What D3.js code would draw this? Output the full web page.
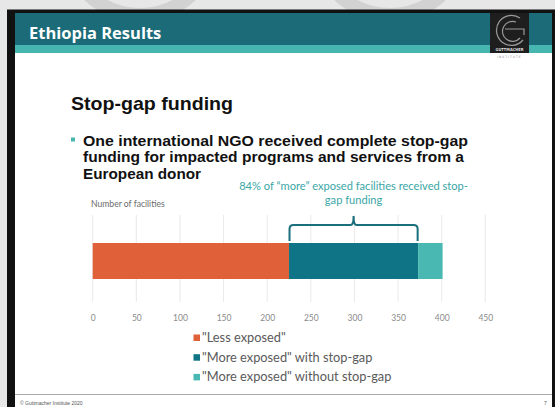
<!DOCTYPE html>
<html><head><meta charset="utf-8">
<script src="https://cdn.jsdelivr.net/npm/d3@7"></script>
<style>html,body{margin:0;padding:0;background:#e7e7e7;}svg{display:block;}</style>
</head><body>
<script>
const categories = ["\"Less exposed\"", "\"More exposed\" with stop-gap", "\"More exposed\" without stop-gap"];
const values = [225, 148, 28];
const colors = ["#e0603a", "#0f7486", "#4ab8b2"];
const tickValues = [0, 50, 100, 150, 200, 250, 300, 350, 400, 450];
const annotation = ["84% of \u201cmore\u201d exposed facilities received stop-", "gap funding"];

const W = 555, H = 407;
const svg = d3.select("body").append("svg").attr("width", W).attr("height", H);

// background faint shapes
svg.append("rect").attr("width", W).attr("height", H).attr("fill", "#e7e7e7");
svg.append("circle").attr("cx", 140).attr("cy", -60).attr("r", 75).attr("fill", "none").attr("stroke", "#d2d2d2").attr("stroke-width", 14);
svg.append("circle").attr("cx", 390).attr("cy", -60).attr("r", 75).attr("fill", "none").attr("stroke", "#d2d2d2").attr("stroke-width", 14);

// slide frame
svg.append("rect").attr("x", 7).attr("y", 9.5).attr("width", W - 7).attr("height", H).attr("fill", "#111");
svg.append("rect").attr("x", 15).attr("y", 13).attr("width", 537).attr("height", H).attr("fill", "#fff");
svg.append("rect").attr("x", 15).attr("y", 13).attr("width", 537).attr("height", 32).attr("fill", "#1b6c78");
svg.append("rect").attr("x", 15).attr("y", 45).attr("width", 537).attr("height", 8).attr("fill", "#47b6b1");
svg.append("text").attr("x", 29).attr("y", 39).attr("fill", "#fff")
  .attr("font-family", "Open Sans, sans-serif").attr("font-weight", 700).attr("font-size", 16.5)
  .text("Ethiopia Results");

// logo
const logo = svg.append("g");
logo.append("rect").attr("x", 490).attr("y", 13).attr("width", 39).attr("height", 40).attr("fill", "#1e1e1e");
logo.append("path").attr("d", "M520,18 A15,15 0 1,0 523,40").attr("fill", "none").attr("stroke", "#9a9a9a").attr("stroke-width", 1.2);
logo.append("path").attr("d", "M516,22 A10,10 0 1,0 520,38").attr("fill", "none").attr("stroke", "#9a9a9a").attr("stroke-width", 1.2);
logo.append("path").attr("d", "M505,29 L524,29 L524,35").attr("fill", "none").attr("stroke", "#9a9a9a").attr("stroke-width", 1.2);
logo.append("text").attr("x", 509.5).attr("y", 51).attr("text-anchor", "middle").attr("fill", "#ddd")
  .attr("font-family", "DejaVu Sans Condensed, sans-serif").attr("font-size", 4).attr("font-weight", 700).text("GUTTMACHER");
logo.append("text").attr("x", 509.5).attr("y", 57.5).attr("text-anchor", "middle").attr("fill", "#888")
  .attr("font-family", "DejaVu Sans, sans-serif").attr("font-size", 3).attr("letter-spacing", 1).text("INSTITUTE");

// title + bullet
svg.append("text").attr("x", 71).attr("y", 110).attr("fill", "#111")
  .attr("font-family", "Liberation Sans, Arial, sans-serif").attr("font-weight", 700).attr("font-size", 18.5)
  .attr("textLength", 162).attr("lengthAdjust", "spacingAndGlyphs")
  .text("Stop-gap funding");
svg.append("rect").attr("x", 71).attr("y", 137.5).attr("width", 4).attr("height", 4).attr("fill", "#47b6b1");
const bl = ["One international NGO received complete stop-gap", "funding for impacted programs and services from a", "European donor"];
const blW = [385, 381, 118];
bl.forEach((t, i) => svg.append("text").attr("x", 83).attr("y", 145.5 + i * 16.5).attr("fill", "#111")
  .attr("font-family", "Liberation Sans, Arial, sans-serif").attr("font-weight", 700).attr("font-size", 15)
  .attr("textLength", blW[i]).attr("lengthAdjust", "spacingAndGlyphs").text(t));

// chart
const x = d3.scaleLinear().domain([0, 400]).range([92.7, 441.7]);
const barY = 243, barH = 36;
const grid = svg.append("g");
grid.selectAll("line").data(tickValues).join("line")
  .attr("x1", d => x(d)).attr("x2", d => x(d)).attr("y1", 215).attr("y2", 302)
  .attr("stroke", "#e3e3e3").attr("stroke-width", 0.8);
const axis = svg.append("g").attr("transform", "translate(0,315)")
  .call(d3.axisBottom(x).tickValues(tickValues).tickSize(0).tickPadding(0));
axis.select(".domain").remove();
axis.selectAll("text").attr("fill", "#8a8a8a").attr("font-family", "Lato, Open Sans, sans-serif").attr("font-size", 8.5);

let acc = 0;
const segs = values.map((v, i) => { const s = {v, i, x0: acc}; acc += v; return s; });
svg.append("g").selectAll("rect").data(segs).join("rect")
  .attr("x", d => x(d.x0)).attr("y", barY).attr("width", d => x(d.x0 + d.v) - x(d.x0)).attr("height", barH)
  .attr("fill", d => colors[d.i]);

svg.append("text").attr("x", 91).attr("y", 206.5).attr("fill", "#6b6b6b")
  .attr("font-family", "Lato, Open Sans, sans-serif").attr("font-size", 8.6).text("Number of facilities");

// bracket
const bx0 = x(values[0]) + 0.5, bx1 = x(values[0] + values[1]) - 0.5, bm = (bx0 + bx1) / 2;
svg.append("path")
  .attr("d", `M${bx0},241 L${bx0},229 Q${bx0},225 ${bx0 + 4},225 L${bm - 3},225 Q${bm},225 ${bm},216 Q${bm},225 ${bm + 3},225 L${bx1 - 4},225 Q${bx1},225 ${bx1},229 L${bx1},241`)
  .attr("fill", "none").attr("stroke", "#19707c").attr("stroke-width", 2);

annotation.forEach((t, i) => svg.append("text").attr("x", bm).attr("y", 190 + i * 14).attr("text-anchor", "middle")
  .attr("fill", "#3aa6a6").attr("font-family", "Lato, Open Sans, sans-serif").attr("font-size", 11.1).text(t));

// legend
const lg = svg.append("g");
categories.forEach((c, i) => {
  const yy = 342 + i * 19.7;
  lg.append("rect").attr("x", 193.5).attr("y", yy - 7.5).attr("width", 6.5).attr("height", 6.5).attr("fill", colors[i]);
  lg.append("text").attr("x", 202).attr("y", yy).attr("fill", "#5a5a5a")
    .attr("font-family", "Lato, Open Sans, sans-serif").attr("font-size", 12.8).text(c);
});

// footer
svg.append("line").attr("x1", 15).attr("x2", 552).attr("y1", 394.5).attr("y2", 394.5).attr("stroke", "#aaa").attr("stroke-width", 1);
svg.append("text").attr("x", 20).attr("y", 405).attr("fill", "#555").attr("font-family", "Liberation Sans, sans-serif").attr("font-size", 5).text("\u00a9 Guttmacher Institute 2020");
svg.append("text").attr("x", 544).attr("y", 405).attr("fill", "#555").attr("font-family", "Liberation Sans, sans-serif").attr("font-size", 5).text("7");
</script>
</body></html>
